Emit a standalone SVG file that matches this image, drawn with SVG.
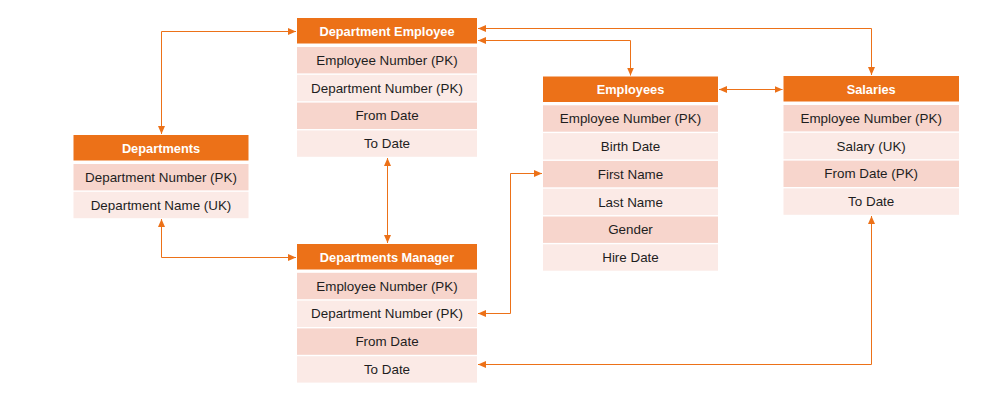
<svg xmlns="http://www.w3.org/2000/svg" width="1003" height="413" viewBox="0 0 1003 413">
<defs>
<style>
.hd{fill:#EC7118}
.r1{fill:#F7D5CC}
.r2{fill:#FBEAE6}
.ht{font-family:"Liberation Sans",Arial,sans-serif;font-size:12.8px;font-weight:bold;fill:#fff;text-anchor:middle}
.rt{font-family:"Liberation Sans",Arial,sans-serif;font-size:13.4px;fill:#1e1e1e;text-anchor:middle}
.cn{fill:none;stroke:#EC7118;stroke-width:1;marker-start:url(#ah);marker-end:url(#ah)}
</style>
<marker id="ah" viewBox="0 0 8 7" refX="8" refY="3.5" markerWidth="8" markerHeight="7" markerUnits="userSpaceOnUse" orient="auto-start-reverse">
<path d="M0,0 L8,3.5 L0,7 z" fill="#EC7118"/>
</marker>
</defs>
<rect width="1003" height="413" fill="#fff"/>

<g id="connectors">
<path class="cn" d="M161.5,134 V31.5 H296"/>
<path class="cn" d="M161.5,219 V257.5 H296"/>
<path class="cn" d="M387.5,158 V243"/>
<path class="cn" d="M478,28.5 H871.5 V75"/>
<path class="cn" d="M478,40.5 H630.5 V75.5"/>
<path class="cn" d="M719,89.5 H782.5"/>
<path class="cn" d="M478,313.5 H510.5 V173.5 H542"/>
<path class="cn" d="M871.5,216 V364.5 H478"/>
</g>

<g id="department-employee">
<rect class="hd" x="297" y="18" width="180" height="25.5"/>
<text class="ht" x="387" y="35.5">Department Employee</text>
<rect class="r1" x="297" y="47" width="180" height="26.4"/>
<text class="rt" x="387" y="64.8">Employee Number (PK)</text>
<rect class="r2" x="297" y="74.8" width="180" height="26.4"/>
<text class="rt" x="387" y="92.6">Department Number (PK)</text>
<rect class="r1" x="297" y="102.6" width="180" height="26.4"/>
<text class="rt" x="387" y="120.4">From Date</text>
<rect class="r2" x="297" y="130.4" width="180" height="26.4"/>
<text class="rt" x="387" y="148.2">To Date</text>
</g>

<g id="departments">
<rect class="hd" x="73.5" y="135" width="175" height="25.5"/>
<text class="ht" x="161" y="152.5">Departments</text>
<rect class="r1" x="73.5" y="164" width="175" height="26.4"/>
<text class="rt" x="161" y="181.8">Department Number (PK)</text>
<rect class="r2" x="73.5" y="191.8" width="175" height="26.4"/>
<text class="rt" x="161" y="209.6">Department Name (UK)</text>
</g>

<g id="employees">
<rect class="hd" x="543" y="76.5" width="175" height="25.5"/>
<text class="ht" x="630.5" y="94">Employees</text>
<rect class="r1" x="543" y="105.3" width="175" height="26.4"/>
<text class="rt" x="630.5" y="123.1">Employee Number (PK)</text>
<rect class="r2" x="543" y="133.1" width="175" height="26.4"/>
<text class="rt" x="630.5" y="150.9">Birth Date</text>
<rect class="r1" x="543" y="160.9" width="175" height="26.4"/>
<text class="rt" x="630.5" y="178.7">First Name</text>
<rect class="r2" x="543" y="188.7" width="175" height="26.4"/>
<text class="rt" x="630.5" y="206.5">Last Name</text>
<rect class="r1" x="543" y="216.5" width="175" height="26.4"/>
<text class="rt" x="630.5" y="234.3">Gender</text>
<rect class="r2" x="543" y="244.3" width="175" height="26.4"/>
<text class="rt" x="630.5" y="262.1">Hire Date</text>
</g>

<g id="salaries">
<rect class="hd" x="783.5" y="76" width="175.5" height="25.5"/>
<text class="ht" x="871.2" y="93.5">Salaries</text>
<rect class="r1" x="783.5" y="105" width="175.5" height="26.4"/>
<text class="rt" x="871.2" y="122.8">Employee Number (PK)</text>
<rect class="r2" x="783.5" y="132.8" width="175.5" height="26.4"/>
<text class="rt" x="871.2" y="150.6">Salary (UK)</text>
<rect class="r1" x="783.5" y="160.6" width="175.5" height="26.4"/>
<text class="rt" x="871.2" y="178.4">From Date (PK)</text>
<rect class="r2" x="783.5" y="188.4" width="175.5" height="26.4"/>
<text class="rt" x="871.2" y="206.2">To Date</text>
</g>

<g id="departments-manager">
<rect class="hd" x="297" y="244" width="180" height="25.5"/>
<text class="ht" x="387" y="261.5">Departments Manager</text>
<rect class="r1" x="297" y="272.8" width="180" height="26.4"/>
<text class="rt" x="387" y="290.6">Employee Number (PK)</text>
<rect class="r2" x="297" y="300.6" width="180" height="26.4"/>
<text class="rt" x="387" y="318.4">Department Number (PK)</text>
<rect class="r1" x="297" y="328.4" width="180" height="26.4"/>
<text class="rt" x="387" y="346.2">From Date</text>
<rect class="r2" x="297" y="356.2" width="180" height="26.4"/>
<text class="rt" x="387" y="374">To Date</text>
</g>
</svg>
